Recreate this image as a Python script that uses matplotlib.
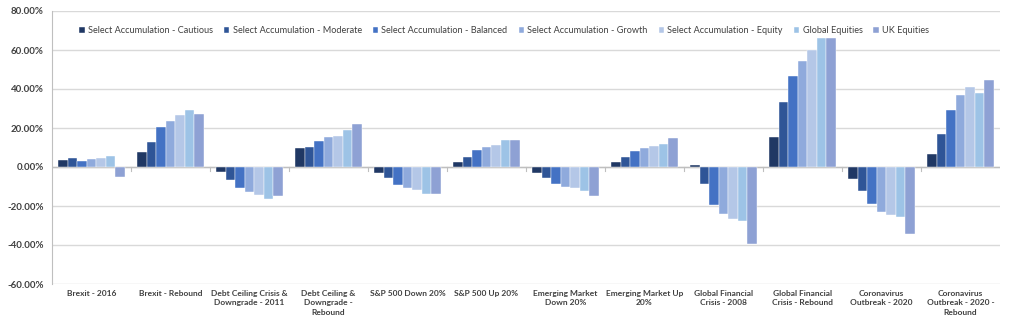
import numpy as np
import matplotlib.pyplot as plt
from matplotlib.ticker import FuncFormatter

# --- data (percent) ---
categories = ['Brexit - 2016', 'Brexit - Rebound', 'Debt Ceiling Crisis &\nDowngrade - 2011',
              'Debt Ceiling &\nDowngrade -\nRebound', 'S&P 500 Down 20%', 'S&P 500 Up 20%',
              'Emerging Market\nDown 20%', 'Emerging Market Up\n20%', 'Global Financial\nCrisis - 2008',
              'Global Financial\nCrisis - Rebound', 'Coronavirus\nOutbreak - 2020',
              'Coronavirus\nOutbreak - 2020 -\nRebound']

series_names = ['Select Accumulation - Cautious', 'Select Accumulation - Moderate',
                'Select Accumulation - Balanced', 'Select Accumulation - Growth',
                'Select Accumulation - Equity', 'Global Equities', 'UK Equities']

cautious = [3.6, 7.7, -2.7, 9.7, -3.1, 2.4, -3.1, 2.6, 1.0, 15.6, -6.0, 6.9]
moderate = [4.6, 12.8, -6.7, 10.4, -5.8, 5.3, -5.5, 5.3, -8.7, 33.1, -12.2, 16.8]
balanced = [3.2, 20.7, -10.9, 13.5, -9.1, 8.7, -8.5, 8.4, -19.5, 46.7, -19.2, 29.3]
growth = [3.9, 23.4, -12.6, 15.2, -10.6, 10.1, -10.1, 9.6, -24.2, 54.2, -23.3, 36.7]
equity = [4.4, 26.7, -14.2, 15.9, -11.6, 11.3, -10.9, 10.6, -26.9, 60.0, -24.5, 41.0]
global_eq = [5.6, 29.1, -16.4, 18.8, -14.0, 13.7, -12.3, 12.0, -27.6, 66.0, -25.7, 37.7]
uk_eq = [-4.9, 27.2, -14.9, 21.9, -14.0, 13.8, -14.9, 14.7, -39.6, 65.9, -34.5, 44.6]

all_series = [cautious, moderate, balanced, growth, equity, global_eq, uk_eq]
colors = ['#203864', '#2F5597', '#4472C4', '#8FAADC', '#B4C7E7', '#9DC3E6', '#8EA1D4']

plt.rcParams['font.family'] = ['Lato', 'DejaVu Sans']

fig = plt.figure(figsize=(10.24, 3.29), dpi=100)
ax = fig.add_axes([52 / 1024, 1 - 284 / 329, 948 / 1024, 273 / 329])

x = np.arange(len(categories))
n = len(all_series)
bar_w = 0.84 / n
for i, (vals, name, c) in enumerate(zip(all_series, series_names, colors)):
    offs = (i - (n - 1) / 2) * bar_w
    ax.bar(x + offs, vals, width=bar_w, color=c, label=name,
           edgecolor='white', linewidth=0.3, zorder=3)

ax.set_xlim(-0.5, len(categories) - 0.5)
ax.set_ylim(-60, 80)
ax.set_yticks(np.arange(-60, 81, 20))
ax.yaxis.set_major_formatter(FuncFormatter(lambda v, p: f'{v:.2f}%'))
ax.grid(axis='y', color='#d9d9d9', linewidth=1, zorder=0)
ax.tick_params(axis='y', length=0, labelsize=7, pad=6, labelcolor='#404040')
for lbl in ax.get_yticklabels():
    lbl.set_fontweight('bold')

# category labels at bottom, ticks at category boundaries on the zero line
ax.set_xticks([])
for xi, cat in zip(x, categories):
    ax.text(xi, -63, cat, ha='center', va='top', fontsize=6, fontweight='bold',
            color='#404040', linespacing=1.4)
ax.axhline(0, color='#bfbfbf', linewidth=1, zorder=2)
for b in np.arange(0.5, len(categories) - 0.5, 1):
    ax.plot([b, b], [0, -1.8], color='#bfbfbf', linewidth=0.8, zorder=2, clip_on=False)

for side in ['top', 'right', 'bottom']:
    ax.spines[side].set_visible(False)
ax.spines['left'].set_color('#bfbfbf')

leg = ax.legend(loc='upper center', bbox_to_anchor=(0.477, 0.975), ncol=7, frameon=False,
                fontsize=6.6, handlelength=0.6, handleheight=0.6, handletextpad=0.35,
                columnspacing=1.2)
for t in leg.get_texts():
    t.set_color('#404040')

fig.savefig('out.png', dpi=100)
